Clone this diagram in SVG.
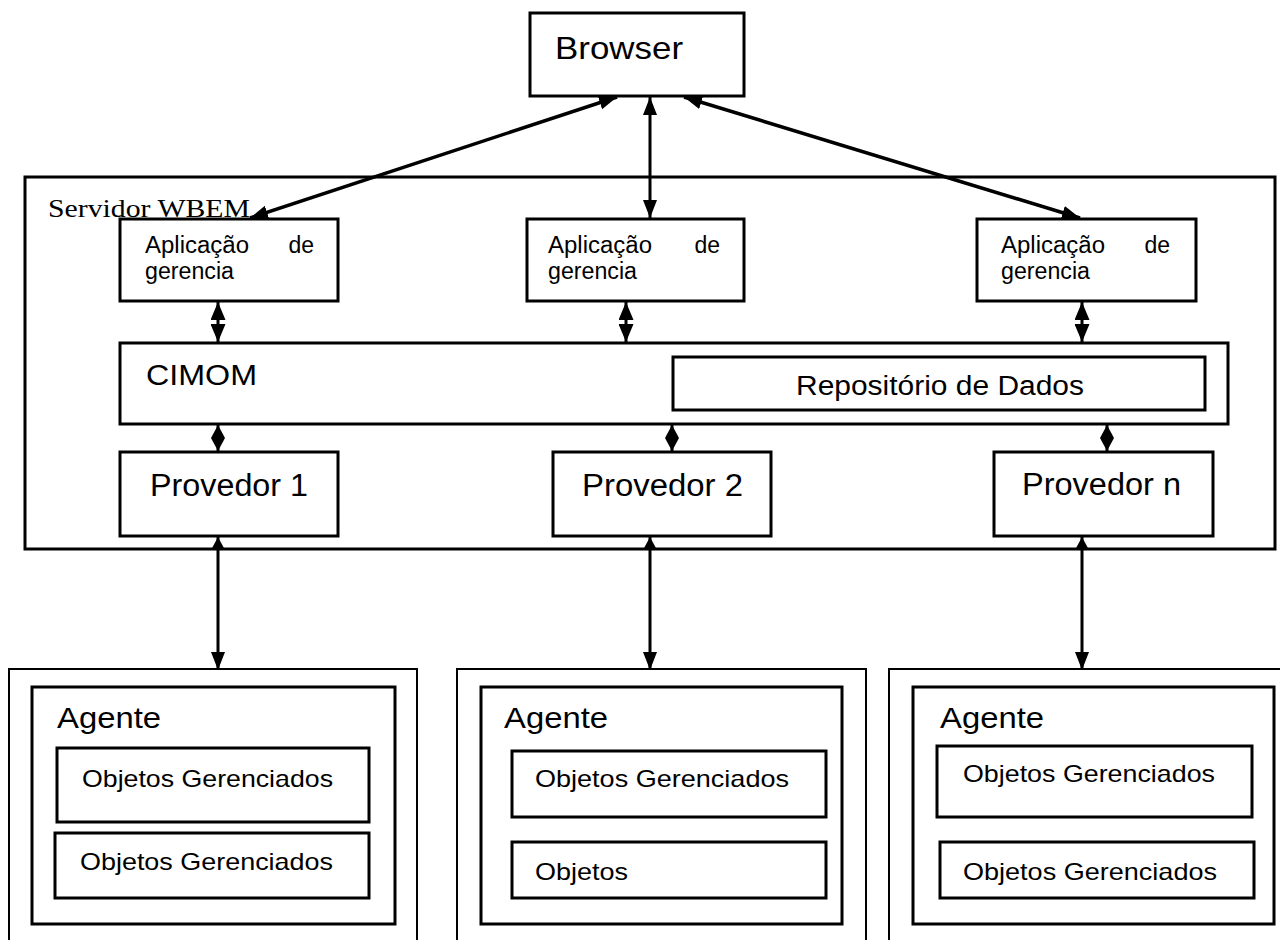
<svg xmlns="http://www.w3.org/2000/svg" width="1280" height="940" viewBox="0 0 1280 940">
<style>
.box{fill:#fff;stroke:#000;stroke-width:3}
.thin{fill:none;stroke:#000;stroke-width:2}
.t{font-family:"Liberation Sans",Arial,sans-serif;fill:#000}
.serif{font-family:"Liberation Serif","Times New Roman",serif;fill:#000}
.c{stroke:#000;stroke-width:3;fill:none}
.cd{stroke:#000;stroke-width:3.5;fill:none}
</style>
<defs>
<marker id="ah" viewBox="0 0 18 14" refX="18" refY="7" markerWidth="18" markerHeight="14" markerUnits="userSpaceOnUse" orient="auto-start-reverse">
<path d="M0,0 L18,7 L0,14 z" fill="#000"/>
</marker>
<marker id="ahm" viewBox="0 0 18 15" refX="18" refY="7.5" markerWidth="18" markerHeight="15" markerUnits="userSpaceOnUse" orient="auto-start-reverse">
<path d="M0,0 L18,7.5 L0,15 z" fill="#000"/>
</marker>
<marker id="ahs" viewBox="0 0 13 14" refX="13" refY="7" markerWidth="13" markerHeight="14" markerUnits="userSpaceOnUse" orient="auto-start-reverse">
<path d="M0,0 L13,7 L0,14 z" fill="#000"/>
</marker>
</defs>
<rect width="1280" height="940" fill="#fff"/>

<g id="servidor">
<rect class="box" x="25" y="177" width="1250" height="372"/>
<text class="serif" x="48" y="217" font-size="26" textLength="202" lengthAdjust="spacingAndGlyphs">Servidor WBEM</text>
</g>

<g id="browser">
<rect class="box" x="530" y="13" width="214" height="83"/>
<text class="t" x="555" y="59" font-size="32" textLength="128" lengthAdjust="spacingAndGlyphs">Browser</text>
</g>

<g id="app1">
<rect class="box" x="120" y="219" width="218" height="82"/>
<text class="t" x="145" y="253" font-size="23" textLength="104" lengthAdjust="spacingAndGlyphs">Aplicação</text>
<text class="t" x="314" y="253" font-size="23" text-anchor="end">de</text>
<text class="t" x="145" y="279" font-size="23" textLength="89" lengthAdjust="spacingAndGlyphs">gerencia</text>
</g>
<g id="app2">
<rect class="box" x="527" y="219" width="217" height="82"/>
<text class="t" x="548" y="253" font-size="23" textLength="104" lengthAdjust="spacingAndGlyphs">Aplicação</text>
<text class="t" x="720" y="253" font-size="23" text-anchor="end">de</text>
<text class="t" x="548" y="279" font-size="23" textLength="89" lengthAdjust="spacingAndGlyphs">gerencia</text>
</g>
<g id="app3">
<rect class="box" x="977" y="219" width="219" height="82"/>
<text class="t" x="1001" y="253" font-size="23" textLength="104" lengthAdjust="spacingAndGlyphs">Aplicação</text>
<text class="t" x="1170" y="253" font-size="23" text-anchor="end">de</text>
<text class="t" x="1001" y="279" font-size="23" textLength="89" lengthAdjust="spacingAndGlyphs">gerencia</text>
</g>

<g id="cimom">
<rect class="box" x="120" y="343" width="1108" height="81"/>
<text class="t" x="146" y="385" font-size="30" textLength="111" lengthAdjust="spacingAndGlyphs">CIMOM</text>
</g>
<g id="repositorio">
<rect class="box" x="673" y="357" width="532" height="53"/>
<text class="t" x="796" y="395" font-size="27" textLength="288" lengthAdjust="spacingAndGlyphs">Repositório de Dados</text>
</g>

<g id="provedor1">
<rect class="box" x="120" y="452" width="218" height="84"/>
<text class="t" x="150" y="496" font-size="31" textLength="158" lengthAdjust="spacingAndGlyphs">Provedor 1</text>
</g>
<g id="provedor2">
<rect class="box" x="553" y="452" width="218" height="84"/>
<text class="t" x="582" y="496" font-size="31" textLength="161" lengthAdjust="spacingAndGlyphs">Provedor 2</text>
</g>
<g id="provedorn">
<rect class="box" x="994" y="452" width="219" height="84"/>
<text class="t" x="1022" y="495" font-size="31" textLength="159" lengthAdjust="spacingAndGlyphs">Provedor n</text>
</g>

<g id="agente1">
<path class="thin" d="M9,945 V669 H417 V945"/>
<rect class="box" x="32" y="687" width="363" height="237"/>
<text class="t" x="57" y="728" font-size="30" textLength="104" lengthAdjust="spacingAndGlyphs">Agente</text>
<rect class="box" x="57" y="748" width="312" height="74"/>
<text class="t" x="82" y="787" font-size="24" textLength="251" lengthAdjust="spacingAndGlyphs">Objetos Gerenciados</text>
<rect class="box" x="55" y="833" width="314" height="65"/>
<text class="t" x="80" y="870" font-size="24" textLength="253" lengthAdjust="spacingAndGlyphs">Objetos Gerenciados</text>
</g>
<g id="agente2">
<path class="thin" d="M457,945 V669 H866 V945"/>
<rect class="box" x="481" y="687" width="361" height="237"/>
<text class="t" x="504" y="728" font-size="30" textLength="104" lengthAdjust="spacingAndGlyphs">Agente</text>
<rect class="box" x="512" y="751" width="314" height="66"/>
<text class="t" x="535" y="787" font-size="24" textLength="254" lengthAdjust="spacingAndGlyphs">Objetos Gerenciados</text>
<rect class="box" x="512" y="842" width="314" height="56"/>
<text class="t" x="535" y="880" font-size="24" textLength="93" lengthAdjust="spacingAndGlyphs">Objetos</text>
</g>
<g id="agente3">
<path class="thin" d="M889,945 V669 H1290"/>
<rect class="box" x="913" y="687" width="361" height="237"/>
<text class="t" x="940" y="728" font-size="30" textLength="104" lengthAdjust="spacingAndGlyphs">Agente</text>
<rect class="box" x="937" y="746" width="315" height="71"/>
<text class="t" x="963" y="782" font-size="24" textLength="252" lengthAdjust="spacingAndGlyphs">Objetos Gerenciados</text>
<rect class="box" x="940" y="842" width="314" height="56"/>
<text class="t" x="963" y="880" font-size="24" textLength="254" lengthAdjust="spacingAndGlyphs">Objetos Gerenciados</text>
</g>

<g id="connectors">
<line class="cd" x1="617" y1="97" x2="250" y2="218" marker-start="url(#ah)" marker-end="url(#ah)"/>
<line class="c" x1="650" y1="97" x2="650" y2="218" marker-start="url(#ah)" marker-end="url(#ah)"/>
<line class="cd" x1="684" y1="97" x2="1080" y2="218" marker-start="url(#ah)" marker-end="url(#ah)"/>
<line class="c" x1="218" y1="302" x2="218" y2="342" marker-start="url(#ahm)" marker-end="url(#ahm)"/>
<line class="c" x1="626" y1="302" x2="626" y2="342" marker-start="url(#ahm)" marker-end="url(#ahm)"/>
<line class="c" x1="1082" y1="302" x2="1082" y2="342" marker-start="url(#ahm)" marker-end="url(#ahm)"/>
<line class="c" x1="218" y1="425" x2="218" y2="451" marker-start="url(#ahs)" marker-end="url(#ahs)"/>
<line class="c" x1="672" y1="425" x2="672" y2="451" marker-start="url(#ahs)" marker-end="url(#ahs)"/>
<line class="c" x1="1107" y1="425" x2="1107" y2="451" marker-start="url(#ahs)" marker-end="url(#ahs)"/>
<line class="c" x1="218" y1="537" x2="218" y2="670" marker-start="url(#ahs)" marker-end="url(#ah)"/>
<line class="c" x1="650" y1="537" x2="650" y2="670" marker-start="url(#ahs)" marker-end="url(#ah)"/>
<line class="c" x1="1082" y1="537" x2="1082" y2="670" marker-start="url(#ahs)" marker-end="url(#ah)"/>
</g>
</svg>
